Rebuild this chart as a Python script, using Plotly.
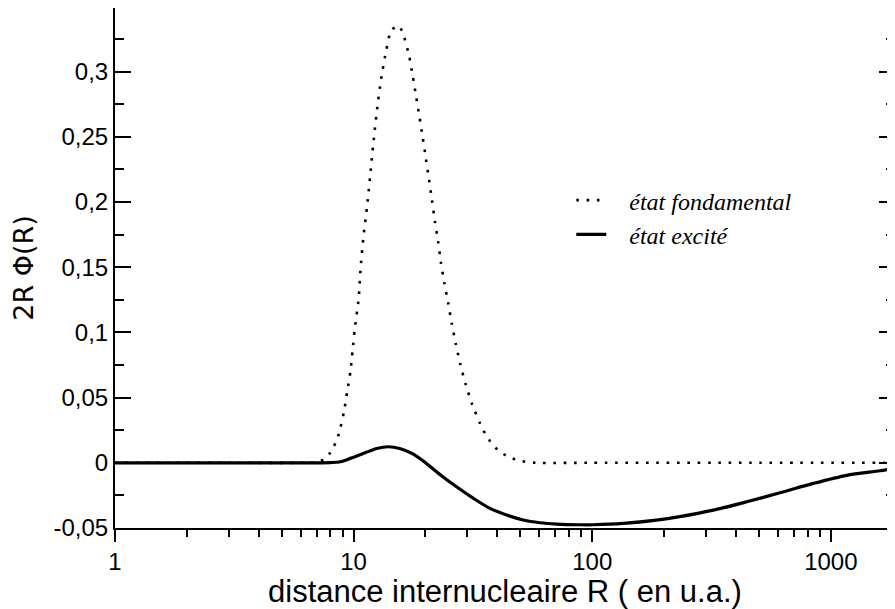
import plotly.graph_objects as go

# distance R (u.a.) and 2R Phi(R)
r_fond = [1, 3, 6, 6.8, 7.5, 8.0, 8.4, 8.7, 9.1, 9.4, 9.7, 9.9, 10.1, 10.5, 10.7,
          11.0, 11.4, 11.75, 12.1, 12.5, 13.0, 13.7, 14.4, 15.5, 16.2, 17.1, 17.7,
          18.3, 18.9, 19.5, 20.1, 20.7, 21.3, 21.9, 22.6, 23.2, 24.0, 24.9, 25.8,
          26.8, 28.0, 29.5, 31.4, 33.9, 35.5, 37.4, 40.0, 43.4, 47.6, 52.4, 58,
          100, 500, 2000]
phi_fond = [0, 0, 0, 0.0003, 0.0023, 0.008, 0.0153, 0.023, 0.0387, 0.0544, 0.0701,
            0.0859, 0.102, 0.1258, 0.1498, 0.1736, 0.1974, 0.2214, 0.245, 0.269,
            0.2927, 0.3165, 0.332, 0.335, 0.3278, 0.3119, 0.2963, 0.2804, 0.2649,
            0.249, 0.2331, 0.2173, 0.2015, 0.1856, 0.170, 0.1539, 0.138, 0.1227,
            0.1066, 0.0913, 0.0757, 0.0601, 0.0448, 0.0301, 0.0228, 0.0163, 0.0103,
            0.0057, 0.0026, 0.0008, 0, 0, 0, 0]

r_exc = [1, 3, 6, 8, 8.8, 9.7, 11.3, 12.5, 14.0, 15.6, 17.8, 20.2, 23.0, 27.0,
         31.8, 37.3, 43.8, 51.4, 60.4, 71, 89, 101, 135, 186, 233, 322, 444, 612,
         845, 1166, 1608, 1860, 2000]
phi_exc = [0, 0, 0, 0.0002, 0.0008, 0.0034, 0.008, 0.011, 0.0123, 0.011, 0.0067,
           -0.0005, -0.0089, -0.0184, -0.0273, -0.035, -0.0401, -0.0439,
           -0.046, -0.047, -0.0475, -0.0475, -0.0465, -0.044, -0.0413, -0.0363,
           -0.0299, -0.023, -0.0158, -0.0096, -0.0061, -0.0042, -0.0032]

y_ticks = [-0.05, 0, 0.05, 0.1, 0.15, 0.2, 0.25, 0.3]
y_labels = ["-0,05", "0", "0,05", "0,1", "0,15", "0,2", "0,25", "0,3"]
y_minor = [-0.025, 0.025, 0.075, 0.125, 0.175, 0.225, 0.275, 0.325]
x_ticks = [1, 10, 100, 1000]
x_labels = ["1", "10", "100", "1000"]
x_minor = [m * d for d in (1, 10, 100, 1000) for m in range(2, 10)]

sans = "Liberation Sans, Arial, sans-serif"
pad = "\u00a0\u00a0\u00a0"

fig = go.Figure()
fig.add_trace(go.Scatter(
    x=r_fond, y=phi_fond, mode="lines", name=pad + "état fondamental",
    line=dict(color="black", width=2.6, dash="2.6px,7.7px", shape="spline", smoothing=0.6),
))
fig.add_trace(go.Scatter(
    x=r_exc, y=phi_exc, mode="lines", name=pad + "état excité",
    line=dict(color="black", width=3.2, shape="spline", smoothing=0.8),
))

# the page body adds an 8px offset, so the figure is 8px smaller than the window
fig.update_layout(
    width=887, height=601,
    margin=dict(l=107, r=0, t=0, b=81),
    paper_bgcolor="white", plot_bgcolor="white",
    font=dict(family=sans, color="black"),
    showlegend=True,
    legend=dict(
        x=0.585, y=0.673, xanchor="left", yanchor="top",
        bgcolor="rgba(0,0,0,0)",
        font=dict(family="Liberation Serif, Times New Roman, serif", size=24, style="italic"),
        tracegroupgap=0,
    ),
    annotations=[dict(
        text="distance internucleaire R ( en u.a.)",
        xref="paper", yref="paper", x=0.5, y=0, xanchor="center", yanchor="middle",
        yshift=-63, showarrow=False, font=dict(size=31),
    )],
)
fig.update_xaxes(
    type="log", range=[0, 3.269], automargin=False,
    showgrid=False, zeroline=False,
    showline=True, linecolor="black", linewidth=2, mirror=True,
    tickmode="array", tickvals=x_ticks, ticktext=x_labels,
    ticks="outside", ticklen=12, tickwidth=1.5, tickcolor="black",
    tickfont=dict(size=24), ticklabelstandoff=-1,
    minor=dict(tickmode="array", tickvals=x_minor, ticks="outside", ticklen=7,
               tickwidth=1.5, tickcolor="black", showgrid=False),
)
fig.update_yaxes(
    range=[-0.05, 0.3488], automargin=False,
    showgrid=False, zeroline=False,
    showline=True, linecolor="black", linewidth=2, mirror="ticks",
    tickmode="array", tickvals=y_ticks, ticktext=y_labels,
    ticks="inside", ticklen=16, tickwidth=1.5, tickcolor="black",
    tickfont=dict(size=24),
    minor=dict(tickmode="array", tickvals=y_minor, ticks="inside", ticklen=9,
               tickwidth=1.5, tickcolor="black", showgrid=False),
    title=dict(text="2R Φ(R)", font=dict(family="DejaVu Sans, sans-serif", size=27), standoff=14),
)

fig.write_html("out.html")
